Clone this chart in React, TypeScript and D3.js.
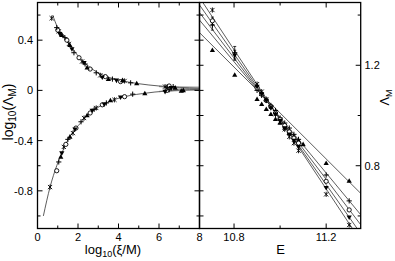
import React from "react";
import * as d3 from "d3";

// ---------- Left panel data: log10(xi/M) vs log10(Lambda_M) ----------
const upperCurve: [number, number][] = [
  [0.75, 0.6], [1.0, 0.5], [1.25, 0.45], [1.5, 0.395], [1.75, 0.33], [2.0, 0.275],
  [2.5, 0.195], [3.0, 0.14], [3.5, 0.105], [4.0, 0.083], [4.5, 0.066], [5.0, 0.053],
  [5.5, 0.043], [6.0, 0.035], [6.5, 0.029], [7.0, 0.024], [7.5, 0.021], [8.0, 0.018],
];
const lowerCurve: [number, number][] = [
  [0.29, -1.0], [0.62, -0.77], [0.95, -0.6], [1.2, -0.5], [1.45, -0.41], [1.75, -0.33],
  [2.1, -0.265], [2.6, -0.18], [3.1, -0.125], [3.6, -0.085], [4.1, -0.058], [4.6, -0.04],
  [5.2, -0.025], [5.8, -0.013], [6.4, -0.005], [7.0, 0.002], [7.5, 0.006], [8.0, 0.008],
];
const fanCurves: [number, number][][] = [
  [[6.0, 0.033], [7.0, 0.028], [8.0, 0.026]],
  [[6.0, 0.03], [7.0, 0.018], [8.0, 0.012]],
  [[6.0, -0.008], [7.0, 0.008], [8.0, 0.015]],
  [[6.0, -0.01], [7.0, -0.002], [8.0, 0.002]],
];

const leftStar: [number, number][] = [
  [0.7, 0.575], [1.05, 0.47], [1.55, 0.37], [2.2, 0.23], [3.1, 0.12], [4.3, 0.075], [6.3, 0.03],
  [0.62, -0.77], [1.3, -0.45], [1.75, -0.34], [2.3, -0.22], [2.9, -0.14], [3.8, -0.075],
];
const leftCircle: [number, number][] = [
  [1.0, 0.48], [1.45, 0.4], [2.05, 0.26], [2.6, 0.17], [3.35, 0.11], [4.1, 0.07], [6.5, 0.035],
  [0.95, -0.64], [1.4, -0.43], [1.9, -0.3], [2.6, -0.18], [3.2, -0.115], [4.3, -0.05], [6.4, 0.0],
];
const leftPlus: [number, number][] = [
  [0.95, 0.5], [1.35, 0.42], [1.8, 0.3], [2.35, 0.21], [2.9, 0.14], [3.7, 0.09], [4.6, 0.06], [6.4, 0.025], [6.7, 0.03],
  [1.05, -0.57], [1.5, -0.39], [2.15, -0.25], [2.8, -0.15], [3.4, -0.1], [4.7, -0.03], [6.5, 0.005],
];
const leftTriUp: [number, number][] = [
  [1.2, 0.44], [1.6, 0.36], [2.45, 0.18], [3.5, 0.09], [4.2, 0.08], [4.9, 0.055], [6.8, 0.02], [7.2, 0.0],
  [1.15, -0.53], [1.6, -0.37], [2.45, -0.2], [3.6, -0.08], [5.3, -0.025], [7.1, -0.005],
];
const leftTriDown: [number, number][] = [
  [1.1, 0.45], [1.7, 0.33], [2.3, 0.22], [3.2, 0.105], [3.9, 0.08], [6.6, 0.02],
  [1.2, -0.5], [1.85, -0.31], [2.7, -0.16], [3.3, -0.11], [4.1, -0.055], [6.3, -0.01],
];

// ---------- Right panel data: E vs Lambda_M ----------
const rightFitTri: [number, number][] = [[10.65, 1.33], [11.35, 0.69]];
const rightFitPlus: [number, number][] = [[10.65, 1.38], [11.35, 0.605]];
const rightFitCircle: [number, number][] = [[10.65, 1.41], [11.35, 0.565]];
const rightFitTriDown: [number, number][] = [[10.65, 1.44], [11.35, 0.53]];
const rightFitStar: [number, number][] = [[10.65, 1.47], [11.35, 0.5]];

const rightTri: [number, number][] = [
  [10.706, 1.26], [10.803, 1.161], [10.9, 1.065], [10.92, 1.045], [10.94, 1.025], [10.96, 1.005],
  [10.98, 0.985], [11.0, 0.97], [11.02, 0.95], [11.04, 0.93], [11.06, 0.915], [11.08, 0.9],
  [11.1, 0.885], [11.2, 0.81], [11.3, 0.739],
];
const rightPlus: [number, number][] = [
  [10.706, 1.36], [10.803, 1.25], [10.9, 1.1], [10.92, 1.08], [10.94, 1.06], [10.96, 1.04],
  [10.98, 1.02], [11.0, 0.99], [11.02, 0.97], [11.04, 0.95], [11.06, 0.925], [11.08, 0.905],
  [11.2, 0.763], [11.3, 0.66],
];
const rightCircle: [number, number][] = [
  [10.706, 1.377], [10.9, 1.11], [10.92, 1.085], [10.94, 1.06], [10.96, 1.035], [10.98, 1.01],
  [11.0, 0.985], [11.02, 0.96], [11.04, 0.935], [11.06, 0.91], [11.08, 0.89], [11.2, 0.738], [11.3, 0.624],
];
const rightTriDown: [number, number][] = [
  [10.803, 1.24], [10.9, 1.115], [10.92, 1.085], [10.94, 1.06], [10.96, 1.03], [10.98, 1.005],
  [11.0, 0.98], [11.02, 0.95], [11.04, 0.925], [11.06, 0.9], [11.08, 0.875], [11.2, 0.712], [11.3, 0.595],
];
const rightStar: [number, number][] = [
  [10.706, 1.42], [10.9, 1.125], [10.92, 1.095], [10.94, 1.065], [10.96, 1.035], [10.98, 1.005],
  [11.0, 0.975], [11.02, 0.945], [11.04, 0.915], [11.06, 0.89], [11.08, 0.86], [11.2, 0.686], [11.3, 0.564],
];
// error bars: [E, Lambda, err]
const rightErrors: [number, number, number][] = [
  [10.706, 1.36, 0.02], [10.706, 1.377, 0.015], [10.803, 1.25, 0.025], [10.803, 1.24, 0.02],
];

// ---------- Ticks ----------
const leftXTicks = [0, 2, 4, 6, 8];
const leftXMinor = [1, 3, 5, 7];
const leftYTicks = [-0.8, -0.4, 0, 0.4];
const leftYMinor = [-1.0, -0.6, -0.2, 0.2, 0.6];
const rightXTicks = [10.8, 11.2];
const rightXMinor = [11.0];
const rightYTicks = [0.8, 1.2];
const rightYMinor = [0.6, 1.0, 1.4];
const rightYLeftTicks = [0.6, 0.7, 0.8, 0.9, 1.0, 1.1, 1.2, 1.3, 1.4];

const W = 395;
const H = 261;
const FONT = "'Liberation Sans', Arial, Helvetica, sans-serif";

const xL = d3.scaleLinear().domain([0, 8]).range([37.5, 199.5]);
const yL = d3.scaleLinear().domain([-1.1, 0.7]).range([228.5, 2.5]);
const xR = d3.scaleLinear().domain([10.65, 11.35]).range([199.5, 360.7]);
const yR = d3.scaleLinear().domain([0.55, 1.45]).range([228.5, 2.5]);

type Kind = "star" | "circle" | "plus" | "tri" | "tdown";

function Marker({ kind, x, y }: { kind: Kind; x: number; y: number }) {
  const r = 2.6;
  if (kind === "circle")
    return <circle cx={x} cy={y} r={2.1} fill="white" stroke="black" strokeWidth={0.9} />;
  if (kind === "plus")
    return (
      <path d={`M${x - r},${y}H${x + r}M${x},${y - r}V${y + r}`} stroke="black" strokeWidth={1} fill="none" />
    );
  if (kind === "star") {
    const a = 2.1;
    return (
      <path
        d={`M${x - a},${y - a}L${x + a},${y + a}M${x - a},${y + a}L${x + a},${y - a}M${x},${y - r}V${y + r}`}
        stroke="black"
        strokeWidth={0.9}
        fill="none"
      />
    );
  }
  if (kind === "tri")
    return <path d={`M${x},${y - 2.8}L${x + 2.6},${y + 1.8}L${x - 2.6},${y + 1.8}Z`} fill="black" />;
  return <path d={`M${x},${y + 2.8}L${x + 2.6},${y - 1.8}L${x - 2.6},${y - 1.8}Z`} fill="black" />;
}

const fmt = (v: number) => (Number.isInteger(v) ? String(v) : v.toFixed(1));

export default function App() {
  const lineL = d3
    .line<[number, number]>()
    .x((d) => xL(d[0]))
    .y((d) => yL(d[1]))
    .curve(d3.curveMonotoneX);
  const lineR = d3
    .line<[number, number]>()
    .x((d) => xR(d[0]))
    .y((d) => yR(d[1]));

  const leftSets: [Kind, [number, number][]][] = [
    ["star", leftStar],
    ["circle", leftCircle],
    ["plus", leftPlus],
    ["tri", leftTriUp],
    ["tdown", leftTriDown],
  ];
  const rightSets: [Kind, [number, number][]][] = [
    ["tri", rightTri],
    ["plus", rightPlus],
    ["circle", rightCircle],
    ["tdown", rightTriDown],
    ["star", rightStar],
  ];
  const rightFits = [rightFitTri, rightFitPlus, rightFitCircle, rightFitTriDown, rightFitStar];

  const [l0, l1] = xL.range();
  const [b0, t0] = yL.range();
  const [r0, r1] = xR.range();

  const major = 5;
  const minor = 3;

  return (
    <svg
      width={W}
      height={H}
      viewBox={`0 0 ${W} ${H}`}
      style={{ position: "absolute", left: 0, top: 0, background: "white" }}
      fontFamily={FONT}
    >
      <rect x={0} y={0} width={W} height={H} fill="white" />
      <defs>
        <clipPath id="clipL">
          <rect x={l0} y={t0} width={l1 - l0} height={b0 - t0} />
        </clipPath>
        <clipPath id="clipR">
          <rect x={r0} y={t0} width={r1 - r0} height={b0 - t0} />
        </clipPath>
      </defs>

      {/* Left panel curves */}
      <g clipPath="url(#clipL)" fill="none" stroke="#333" strokeWidth={0.8}>
        <path d={lineL(upperCurve) || ""} />
        <path d={lineL(lowerCurve) || ""} />
        {fanCurves.map((c, i) => (
          <path key={i} d={lineL(c) || ""} stroke="#666" strokeWidth={0.7} />
        ))}
      </g>
      <g clipPath="url(#clipL)">
        {leftSets.map(([k, pts]) =>
          pts.map((p, i) => <Marker key={k + i} kind={k} x={xL(p[0])} y={yL(p[1])} />)
        )}
      </g>

      {/* Right panel lines */}
      <g clipPath="url(#clipR)" fill="none" stroke="#333" strokeWidth={0.8}>
        {rightFits.map((f, i) => (
          <path key={i} d={lineR(f) || ""} />
        ))}
      </g>
      <g clipPath="url(#clipR)">
        {rightErrors.map((e, i) => (
          <g key={"e" + i} stroke="black" strokeWidth={0.8}>
            <line x1={xR(e[0])} x2={xR(e[0])} y1={yR(e[1] - e[2])} y2={yR(e[1] + e[2])} />
            <line x1={xR(e[0]) - 1.5} x2={xR(e[0]) + 1.5} y1={yR(e[1] - e[2])} y2={yR(e[1] - e[2])} />
            <line x1={xR(e[0]) - 1.5} x2={xR(e[0]) + 1.5} y1={yR(e[1] + e[2])} y2={yR(e[1] + e[2])} />
          </g>
        ))}
        {rightSets.map(([k, pts]) =>
          pts.map((p, i) => <Marker key={k + i} kind={k} x={xR(p[0])} y={yR(p[1])} />)
        )}
      </g>

      {/* Ticks */}
      <g stroke="black" strokeWidth={1}>
        {leftXTicks.map((t) => (
          <g key={"lxt" + t}>
            <line x1={xL(t)} x2={xL(t)} y1={b0} y2={b0 - major} />
            <line x1={xL(t)} x2={xL(t)} y1={t0} y2={t0 + major} />
          </g>
        ))}
        {leftXMinor.map((t) => (
          <g key={"lxm" + t}>
            <line x1={xL(t)} x2={xL(t)} y1={b0} y2={b0 - minor} />
            <line x1={xL(t)} x2={xL(t)} y1={t0} y2={t0 + minor} />
          </g>
        ))}
        {leftYTicks.map((t) => (
          <g key={"lyt" + t}>
            <line x1={l0} x2={l0 + major} y1={yL(t)} y2={yL(t)} />
            <line x1={l1} x2={l1 - major} y1={yL(t)} y2={yL(t)} />
          </g>
        ))}
        {leftYMinor.map((t) => (
          <g key={"lym" + t}>
            <line x1={l0} x2={l0 + minor} y1={yL(t)} y2={yL(t)} />
            <line x1={l1} x2={l1 - minor} y1={yL(t)} y2={yL(t)} />
          </g>
        ))}
        {rightXTicks.map((t) => (
          <g key={"rxt" + t}>
            <line x1={xR(t)} x2={xR(t)} y1={b0} y2={b0 - major} />
            <line x1={xR(t)} x2={xR(t)} y1={t0} y2={t0 + major} />
          </g>
        ))}
        {rightXMinor.map((t) => (
          <g key={"rxm" + t}>
            <line x1={xR(t)} x2={xR(t)} y1={b0} y2={b0 - minor} />
            <line x1={xR(t)} x2={xR(t)} y1={t0} y2={t0 + minor} />
          </g>
        ))}
        {rightYTicks.map((t) => (
          <line key={"ryt" + t} x1={r1} x2={r1 - major} y1={yR(t)} y2={yR(t)} />
        ))}
        {rightYMinor.map((t) => (
          <line key={"rym" + t} x1={r1} x2={r1 - minor} y1={yR(t)} y2={yR(t)} />
        ))}
        {rightYLeftTicks.map((t) => (
          <line key={"ryl" + t} x1={r0} x2={r0 + 4} y1={yR(t)} y2={yR(t)} />
        ))}
      </g>

      {/* Frames */}
      <rect x={l0} y={t0} width={l1 - l0} height={b0 - t0} fill="none" stroke="black" strokeWidth={1.3} />
      <rect x={r0} y={t0} width={r1 - r0} height={b0 - t0} fill="none" stroke="black" strokeWidth={1.3} />

      {/* Tick labels */}
      <g fontSize={11} fill="black">
        {leftXTicks.map((t) => (
          <text key={"lxl" + t} x={xL(t)} y={241} textAnchor="middle">
            {fmt(t)}
          </text>
        ))}
        {leftYTicks.map((t) => (
          <text key={"lyl" + t} x={33} y={yL(t) + 4} textAnchor="end">
            {fmt(t)}
          </text>
        ))}
        {rightXTicks.map((t) => (
          <text key={"rxl" + t} x={xR(t)} y={241} textAnchor="middle">
            {fmt(t)}
          </text>
        ))}
        {rightYTicks.map((t) => (
          <text key={"ryl" + t} x={364.5} y={yR(t) + 4} textAnchor="start">
            {fmt(t)}
          </text>
        ))}
      </g>

      {/* Axis titles */}
      <g fontSize={13} fill="black">
        <text x={113} y={254} textAnchor="middle">
          log<tspan fontSize={9} dy={3}>10</tspan>
          <tspan dy={-3}>(ξ/M)</tspan>
        </text>
        <text x={280.7} y={254} textAnchor="middle">
          E
        </text>
        <text transform="translate(12.5,112) rotate(-90)" textAnchor="middle" fontSize={14}>
          log<tspan fontSize={10} dy={3}>10</tspan>
          <tspan dy={-3}>(Λ</tspan>
          <tspan fontSize={10} dy={3}>M</tspan>
          <tspan dy={-3}>)</tspan>
        </text>
        <text transform="translate(388.5,97.5) rotate(-90)" textAnchor="middle">
          Λ<tspan fontSize={9} dy={3}>M</tspan>
        </text>
      </g>
    </svg>
  );
}
